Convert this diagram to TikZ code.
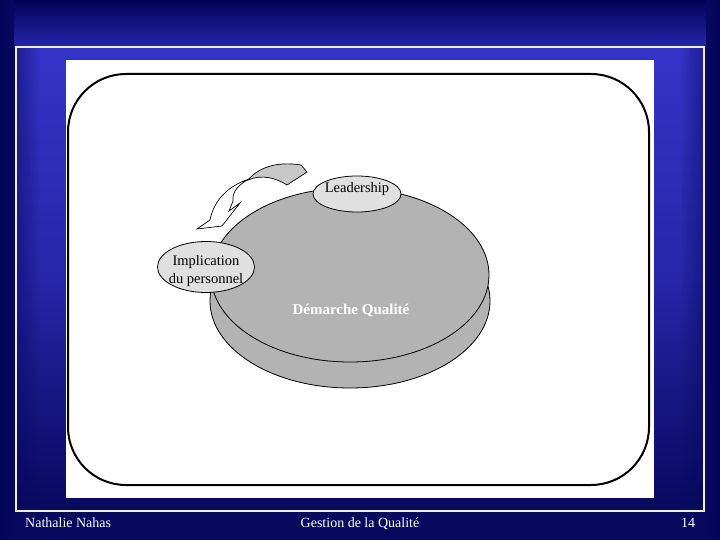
\documentclass[tikz,border=0pt]{standalone}
\usepackage{fontspec}
\setmainfont{Liberation Serif}
\usetikzlibrary{shapes.geometric,fadings}
\definecolor{navy}{HTML}{08085E}
\definecolor{navytop}{HTML}{03035A}
\definecolor{bluemid}{HTML}{2626A8}
\definecolor{bluebright}{HTML}{3434C8}
\definecolor{cream}{HTML}{F2EECB}
\definecolor{discgrey}{HTML}{B3B3B3}
\definecolor{lightgrey}{HTML}{E0E0E0}
\definecolor{arrowgrey}{HTML}{C8C8C8}
\tikzset{
  bubble/.style={ellipse, draw=black, fill=lightgrey, line width=0.8pt, inner sep=0pt},
  bubbletext/.style={align=center, inner sep=0pt, font=\fontsize{14.5}{18}\selectfont},
  footer/.style={text=white, font=\fontsize{14}{16}\selectfont, inner sep=0pt, anchor=base},
  outline/.style={draw=black, line width=0.8pt}
}
\begin{document}
\begin{tikzpicture}[x=1pt,y=-1pt]
\useasboundingbox (0,0) rectangle (720,540);
% background
\fill[navy] (0,0) rectangle (720,540);
\shade[top color=navytop, bottom color=bluemid] (0,0) rectangle (720,47);
\shade[left color=navytop, right color=navy] (0,0) rectangle (14,540);
\shade[right color=navytop, left color=navy] (706,0) rectangle (720,540);
% inner framed panel
\shade[top color=bluebright, bottom color=navy, middle color=bluemid] (16,47) rectangle (704,511);
\fill[navy, path fading=east, opacity=0.5] (16,47) rectangle (40,511);
\fill[navy, path fading=west, opacity=0.5] (680,47) rectangle (704,511);
\draw[cream, line width=2.5pt] (16,47) rectangle (704,511);
% white picture
\fill[white] (66,60) rectangle (654,498);
\draw[black, line width=2pt, rounded corners=58pt] (68,74) rectangle (649,485);
% disc
\filldraw[fill=discgrey, outline] (350,301) ellipse [x radius=140, y radius=87];
\filldraw[fill=discgrey, outline] (350,275) ellipse [x radius=139, y radius=87];
\node[text=white, font=\bfseries\fontsize{15}{17}\selectfont] (dq) at (351,311) {Démarche Qualité};
% curved arrow
\filldraw[fill=arrowgrey, draw=black, line width=0.7pt] (248,180) .. controls (258,168) and (276,161) .. (301,165) -- (307,172) -- (287,185) .. controls (276,178) and (262,174) .. (248,180) -- cycle;
\filldraw[fill=white, draw=black, line width=0.7pt] (249,179) .. controls (228,186) and (214,200) .. (210,220) -- (197,229) -- (222,226) -- (240,203) -- (229,211) -- (233,201) .. controls (232,192) and (238,185) .. (249,179) -- cycle;
% bubbles
\node[bubble, minimum width=97pt, minimum height=51pt] (impl) at (206,267) {};
\node[bubbletext] (impltext) at (206,271) {Implication\\du personnel};
\node[bubble, minimum width=88pt, minimum height=36pt] (lead) at (357,194) {};
\node[bubbletext] (leadtext) at (357,189) {Leadership};
% footer
\node[footer, anchor=base west] (author) at (25,527) {Nathalie Nahas};
\node[footer] (title) at (360,527) {Gestion de la Qualité};
\node[footer] (page) at (688,527) {14};
\end{tikzpicture}
\end{document}
